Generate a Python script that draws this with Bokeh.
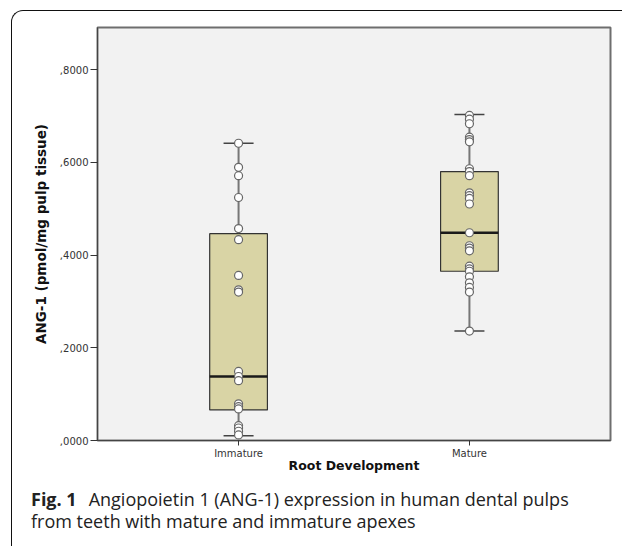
from bokeh.plotting import figure
from bokeh.models import Range1d, FixedTicker, Div, InlineStyleSheet
from bokeh.layouts import column
from bokeh.embed import file_html
from bokeh.resources import INLINE

# ---- data ----
groups = ["Immature", "Mature"]
group_pos = [1, 2]
lower_whisker = [0.010, 0.236]
q1 = [0.066, 0.365]
median = [0.138, 0.448]
q3 = [0.446, 0.580]
upper_whisker = [0.641, 0.703]

immature_values = [0.641, 0.589, 0.571, 0.524, 0.457, 0.433, 0.356, 0.325, 0.320,
                   0.149, 0.138, 0.129, 0.079, 0.073, 0.068, 0.032, 0.027, 0.020, 0.012]
mature_values = [0.701, 0.693, 0.683, 0.654, 0.649, 0.644, 0.586, 0.580, 0.571,
                 0.534, 0.528, 0.522, 0.510, 0.448, 0.420, 0.415, 0.409, 0.376,
                 0.370, 0.365, 0.353, 0.340, 0.330, 0.320, 0.236]

y_ticks = [0.0, 0.2, 0.4, 0.6, 0.8]
y_tick_labels = [",0000", ",2000", ",4000", ",6000", ",8000"]

y_title = "ANG-1 (pmol/mg pulp tissue)"
x_title = "Root Development"
caption_bold = "Fig. 1"
caption_line1 = "Angiopoietin 1 (ANG-1) expression in human dental pulps"
caption_line2 = "from teeth with mature and immature apexes"

# ---- styles ----
BOX_W = 0.25
CAP_W = 0.13
BOX_FILL = "#d9d4a5"
W, H = 622, 478
FRAME_BOTTOM = 440

p = figure(width=W, height=H, output_backend="svg", toolbar_location=None,
           x_range=Range1d(0.389, 2.611), y_range=Range1d(0, 0.8906),
           min_border_left=97, min_border_right=12, min_border_top=27,
           min_border_bottom=H - FRAME_BOTTOM)
p.background_fill_color = "#f2f2f2"
p.border_fill_color = None
p.outline_line_color = "#6e6e6e"
p.outline_line_width = 2
p.grid.visible = False

# axes
p.yaxis.ticker = FixedTicker(ticks=y_ticks)
p.yaxis.major_label_overrides = {t: l for t, l in zip(y_ticks, y_tick_labels)}
p.xaxis.ticker = FixedTicker(ticks=group_pos)
p.xaxis.major_label_overrides = {g: n for g, n in zip(group_pos, groups)}
for ax in (p.xaxis, p.yaxis):
    ax.minor_tick_line_color = None
    ax.major_tick_in = 0
    ax.axis_line_color = "#444444"
    ax.major_tick_line_color = "#333333"
    ax.major_label_text_font = "DejaVu Sans"
    ax.major_label_text_font_size = "10px"
    ax.major_label_text_color = "#333333"
    ax.axis_label_text_font = "DejaVu Sans"
    ax.axis_label_text_font_style = "bold"
    ax.axis_label_text_font_size = "12.5px"
    ax.axis_label_text_color = "#111111"
p.yaxis.axis_label_text_font_size = "13.5px"
p.yaxis.major_tick_out = 7
p.yaxis.major_label_standoff = 2
p.yaxis.axis_label_standoff = 8
p.xaxis.major_tick_out = 5
p.xaxis.major_label_standoff = 2
p.xaxis.axis_label_standoff = -4
p.yaxis.axis_label = y_title
p.xaxis.axis_label = x_title

# whiskers
p.segment(x0=group_pos, x1=group_pos, y0=q3, y1=upper_whisker,
          line_color="#777777", line_width=2)
p.segment(x0=group_pos, x1=group_pos, y0=q1, y1=lower_whisker,
          line_color="#777777", line_width=2)
cap_x0 = [g - CAP_W / 2 for g in group_pos]
cap_x1 = [g + CAP_W / 2 for g in group_pos]
p.segment(x0=cap_x0, x1=cap_x1, y0=upper_whisker, y1=upper_whisker,
          line_color="#444444", line_width=1.5)
p.segment(x0=cap_x0, x1=cap_x1, y0=lower_whisker, y1=lower_whisker,
          line_color="#444444", line_width=1.5)

# boxes
p.vbar(x=group_pos, width=BOX_W, bottom=q1, top=q3, fill_color=BOX_FILL,
       line_color="#333333", line_width=1.2)
med_x0 = [g - BOX_W / 2 for g in group_pos]
med_x1 = [g + BOX_W / 2 for g in group_pos]
p.segment(x0=med_x0, x1=med_x1, y0=median, y1=median,
          line_color="#1a1a1a", line_width=2.5)

# points
for g, vals in zip(group_pos, [immature_values, mature_values]):
    p.scatter(x=[g] * len(vals), y=vals, size=8, marker="circle",
              fill_color="white", line_color="#666666", line_width=1.2)

# caption
pad_top = 488 - H
caption_html = (
    f'<div style="padding:{pad_top}px 0 0 31px; font-family:\'Open Sans\'; font-size:18px; '
    'line-height:22px; color:#222222; white-space:nowrap;">'
    f'<b>{caption_bold}</b><span style="margin-left:12px">{caption_line1}</span><br>'
    f'{caption_line2}</div>'
)
cap = Div(text=caption_html, width=W, height=546 - H, margin=0)

frame_css = InlineStyleSheet(css="""
:host { position: relative; }
:host::after {
  content: ''; position: absolute; left: 11px; top: 10px; right: 0px; bottom: 0px;
  border-top: 1.5px solid #111111; border-left: 1.5px solid #111111;
  border-top-left-radius: 12px; pointer-events: none;
}
""")

layout = column(p, cap, spacing=0, stylesheets=[frame_css])

open("out.html", "w").write(file_html(layout, INLINE))
